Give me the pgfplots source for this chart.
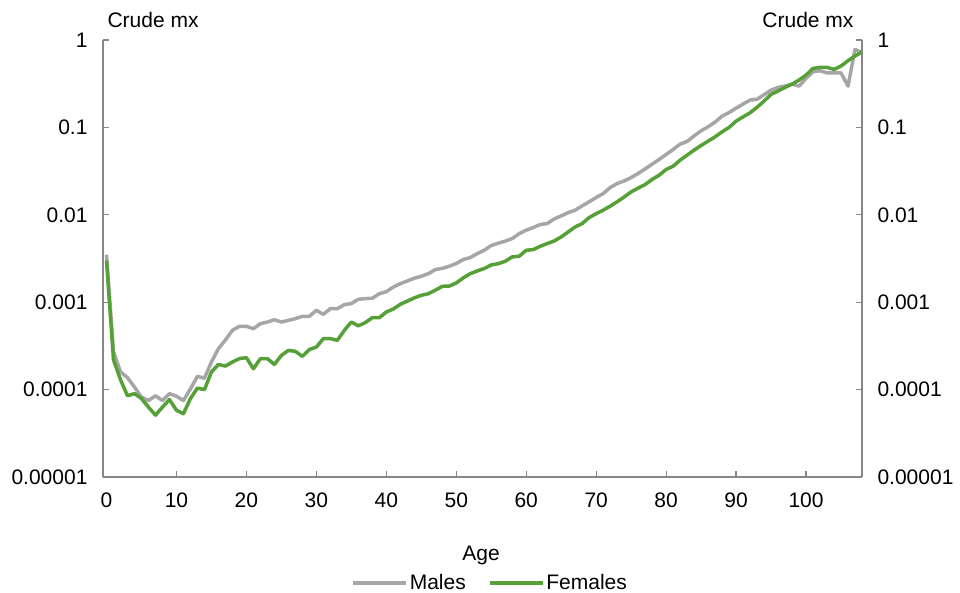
\documentclass[border=0pt]{standalone}
\usepackage{fontspec}
\setmainfont{Liberation Sans}
\usepackage{pgfplots}
\usepackage{pgfplotstable}
\pgfplotsset{compat=1.18}
\definecolor{males}{HTML}{A6A6A6}
\definecolor{females}{HTML}{56A038}
\definecolor{axgray}{HTML}{868686}

\pgfplotstableread{
age male female
0 0.0035 0.0030
1 0.00027 0.00022
2 0.00016 0.00013
3 0.000137 0.000085
4 0.000107 0.00009
5 0.000082 0.000079
6 0.000075 0.000063
7 0.000085 0.000051
8 0.000075 0.000063
9 0.00009 0.000077
10 0.000084 0.000058
11 0.000075 0.000053
12 0.000102 0.000079
13 0.000142 0.000104
14 0.000135 0.0001
15 0.000207 0.000159
16 0.000294 0.000194
17 0.00037 0.000186
18 0.000477 0.000207
19 0.00053 0.000226
20 0.00053 0.000232
21 0.000498 0.000173
22 0.000568 0.000226
23 0.000593 0.000226
24 0.00063 0.000194
25 0.000593 0.000246
26 0.00062 0.000281
27 0.000648 0.000274
28 0.00069 0.00024
29 0.00069 0.000288
30 0.000807 0.000307
31 0.000727 0.000383
32 0.000844 0.000383
33 0.000844 0.000366
34 0.000938 0.000477
35 0.000964 0.000593
36 0.00108 0.000537
37 0.0011 0.000585
38 0.00111 0.000665
39 0.00125 0.000665
40 0.00132 0.000773
41 0.00149 0.000836
42 0.00163 0.000946
43 0.00175 0.00103
44 0.00188 0.00112
45 0.00198 0.0012
46 0.00212 0.00125
47 0.00236 0.00137
48 0.00244 0.00152
49 0.00258 0.00153
50 0.00277 0.00166
51 0.00308 0.0019
52 0.00324 0.00212
53 0.0036 0.00228
54 0.00393 0.00243
55 0.00445 0.00267
56 0.00473 0.00276
57 0.005 0.00294
58 0.00535 0.0033
59 0.0061 0.00336
60 0.00667 0.00393
61 0.00715 0.004
62 0.00774 0.00436
63 0.00794 0.00469
64 0.00898 0.00502
65 0.00971 0.00558
66 0.0106 0.00637
67 0.0113 0.00727
68 0.01265 0.00794
69 0.0141 0.0093
70 0.0158 0.0103
71 0.0175 0.0113
72 0.0205 0.01254
73 0.0228 0.0141
74 0.0244 0.016
75 0.0267 0.0183
76 0.0297 0.0202
77 0.0335 0.0222
78 0.038 0.0254
79 0.043 0.0284
80 0.049 0.033
81 0.0559 0.036
82 0.0644 0.0422
83 0.069 0.0482
84 0.080 0.055
85 0.0914 0.0621
86 0.1016 0.0697
87 0.115 0.078
88 0.1347 0.089
89 0.148 0.1
90 0.166 0.118
91 0.185 0.132
92 0.2055 0.147
93 0.21 0.17
94 0.237 0.2
95 0.267 0.239
96 0.287 0.261
97 0.297 0.287
98 0.313 0.313
99 0.297 0.348
100 0.364 0.397
101 0.434 0.473
102 0.445 0.486
103 0.42 0.486
104 0.42 0.461
105 0.42 0.504
106 0.297 0.58
107 0.78 0.656
108 0.716 0.73
}\mx

\pgfplotsset{
  common/.style={
    scale only axis, width=759pt, height=437pt,
    at={(103pt,-477pt)}, anchor=south west,
    xmin=-0.5, xmax=108,
    ymin=1e-5, ymax=1,
    ytick={1e-5,1e-4,1e-3,1e-2,1e-1,1},
    yticklabels={0.00001,0.0001,0.001,0.01,0.1,1},
    yminorticks=false,
    tick align=inside, major tick length=6pt,
    every tick/.style={axgray, line width=1.2pt},
    axis line style={axgray, line width=1.5pt},
    tick label style={font=\fontsize{21}{25}\selectfont},
    /pgf/number format/assume math mode=true,
  }
}

\begin{document}
\begin{tikzpicture}[x=1pt,y=1pt]
\useasboundingbox (0,0) rectangle (960,-593);
\begin{semilogyaxis}[common,
  axis x line*=bottom, axis y line*=left,
  xtick={10,20,...,100},
  extra x ticks={0},
  extra x tick style={major tick length=0pt},
  xticklabel style={yshift=-12pt},
  yticklabel style={xshift=-12pt},
  legend style={at={(0.51,-0.2426)}, anchor=center, draw=none, fill=none,
    legend columns=2, font=\fontsize{21}{25}\selectfont,
    /tikz/every even column/.append style={column sep=20pt}},
  legend image code/.code={\draw[#1] (0pt,0pt) -- (53pt,0pt);},
]
\addplot[males, line width=3.5pt, line join=round] table[x=age, y=male] {\mx};
\addlegendentry{Males}
\addplot[females, line width=3.5pt, line join=round] table[x=age, y=female] {\mx};
\addlegendentry{Females}
\end{semilogyaxis}
\begin{semilogyaxis}[common,
  axis x line=none, axis y line*=right,
  xtick=\empty,
  yticklabel style={xshift=12pt},
]
\end{semilogyaxis}
\node[font=\fontsize{21}{25}\selectfont, anchor=west] at (104,-20) {Crude mx};
\node[font=\fontsize{21}{25}\selectfont, anchor=east] at (857,-20) {Crude mx};
\node[font=\fontsize{21}{25}\selectfont] at (481,-555) {Age};
\end{tikzpicture}
\end{document}
